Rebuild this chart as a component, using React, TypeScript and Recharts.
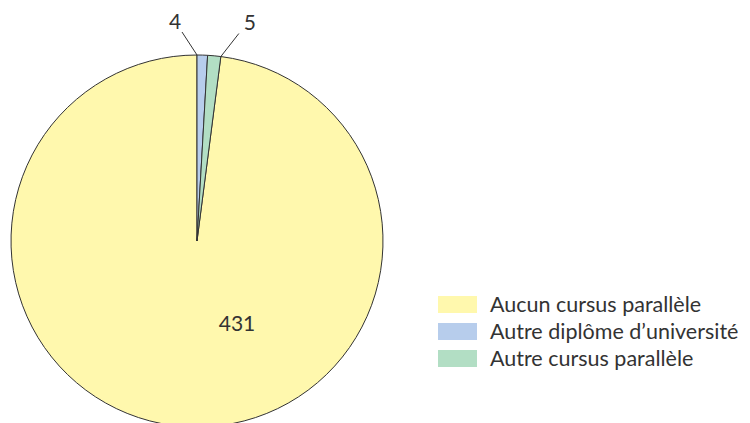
import { PieChart, Pie, Cell } from 'recharts';

const categories = ['Aucun cursus parallèle', 'Autre diplôme d\u2019université', 'Autre cursus parallèle'];
const values = [431, 4, 5];
const colors = ['#FFF8AD', '#B7CDEC', '#B2DEC4'];

const data = categories.map((name, i) => ({ name, value: values[i] }));
const total = values.reduce((a, b) => a + b, 0);
// yellow slice ends at the top, then the two small ones run clockwise from 12 o'clock
const startAngle = 90 + (values[0] / total) * 360;
const endAngle = startAngle - 360;

const RAD = Math.PI / 180;
const FONT = 'Lato, "Open Sans", sans-serif';

function renderLabel(props: any) {
  const { cx, cy, outerRadius, index, value } = props;
  if (index === 0) {
    return (
      <text x={cx + 40} y={cy + 81} textAnchor="middle" dominantBaseline="central"
        fontSize={21} fill="#333" fontFamily={FONT}>
        {value}
      </text>
    );
  }
  // blue label goes up-left from its left edge, green up-right from its right edge
  const edge = index === 1 ? props.startAngle : props.endAngle;
  const sx = cx + outerRadius * Math.cos(-edge * RAD);
  const sy = cy + outerRadius * Math.sin(-edge * RAD);
  const dx = index === 1 ? -15 : 18;
  const ex = sx + dx;
  const ey = sy - 23;
  const lx = ex + (index === 1 ? -7 : 11);
  return (
    <g>
      <line x1={sx} y1={sy} x2={ex} y2={ey} stroke="#333" strokeWidth={1} />
      <text x={lx} y={ey - 12} textAnchor="middle" dominantBaseline="central"
        fontSize={21} fill="#333" fontFamily={FONT}>
        {value}
      </text>
    </g>
  );
}

export default function App() {
  return (
    <div style={{ position: 'absolute', left: 0, top: 0, width: 750, height: 423, background: '#fff', overflow: 'hidden' }}>
      <PieChart width={750} height={423} margin={{ top: 0, right: 0, bottom: 0, left: 0 }}>
        <Pie
          data={data}
          dataKey="value"
          cx={197}
          cy={241}
          outerRadius={186}
          startAngle={startAngle}
          endAngle={endAngle}
          stroke="#333"
          strokeWidth={1}
          label={renderLabel}
          labelLine={false}
          isAnimationActive={false}
        >
          {data.map((d, i) => (
            <Cell key={d.name} fill={colors[i]} />
          ))}
        </Pie>
      </PieChart>
      <div style={{ position: 'absolute', left: 438, top: 296, fontFamily: FONT, fontSize: 21.5, color: '#333', whiteSpace: 'nowrap' }}>
        {categories.map((c, i) => (
          <div key={c} style={{ display: 'flex', alignItems: 'center', height: 27 }}>
            <div style={{ width: 39, height: 17, background: colors[i], marginRight: 13, marginTop: -10 }} />
            <span style={{ marginTop: -10, lineHeight: '17px' }}>{c}</span>
          </div>
        ))}
      </div>
    </div>
  );
}
